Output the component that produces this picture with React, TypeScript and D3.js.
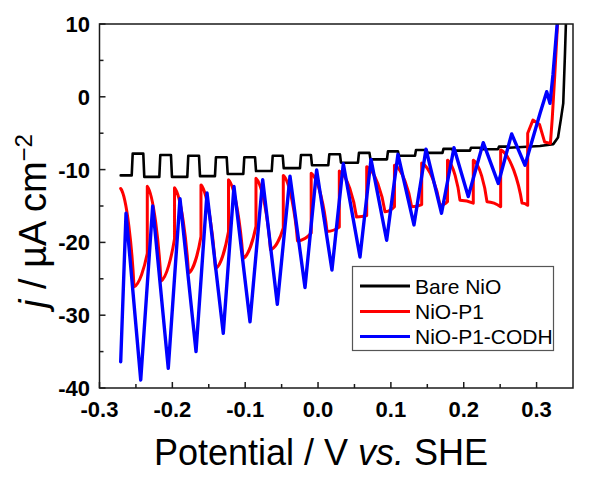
import React from "react";
import * as d3 from "d3";

// ---------- data ----------
const xTickValues = [-0.3, -0.2, -0.1, 0.0, 0.1, 0.2, 0.3];
const xTickLabels = ["-0.3", "-0.2", "-0.1", "0.0", "0.1", "0.2", "0.3"];
const xMinorTicks = [-0.25, -0.15, -0.05, 0.05, 0.15, 0.25];
const yTickValues = [10, 0, -10, -20, -30, -40];
const yTickLabels = ["10", "0", "-10", "-20", "-30", "-40"];
const yMinorTicks = [5, -5, -15, -25, -35];

const seriesNames = ["Bare NiO", "NiO-P1", "NiO-P1-CODH"];

// Bare NiO: chopped-light square pulses
const blackStartV = -0.2709;
const blackStartJ = -10.8;
const blackUpV = [-0.2558, -0.2179, -0.1795, -0.1415, -0.1026, -0.0636, -0.0248, 0.0141, 0.0548, 0.0946, 0.1331, 0.1708, 0.2086, 0.247];
const blackDownV = [-0.2399, -0.2019, -0.1634, -0.1254, -0.0865, -0.0485, -0.0097, 0.0301, 0.0706, 0.1097, 0.1489, 0.1839, 0.2223, 0.2607];
const blackHigh = [-7.8, -8.0, -8.1, -8.3, -8.3, -8.1, -8.0, -7.9, -7.7, -7.5, -7.3, -7.15, -7.0, -6.85];
const blackLow = [-11.0, -11.0, -10.9, -10.6, -10.2, -9.8, -9.4, -9.05, -8.6, -8.1, -7.7, -7.4, -7.2, -7.0];
const blackTailV = [0.3047, 0.3229, 0.3294, 0.3335, 0.3366, 0.339, 0.3404];
const blackTailJ = [-6.75, -6.5, -5.6, -3.0, -0.9, 6.0, 10.5];

// NiO-P1: jump potentials, value after jump, minimum, value before next jump
const redJumpV = [-0.2709, -0.2344, -0.197, -0.1607, -0.1229, -0.0852, -0.0477, -0.0094, 0.0292, 0.0668, 0.1049, 0.1423, 0.1777, 0.2131, 0.2507, 0.2878];
const redTop = [-12.6, -12.3, -12.5, -12.1, -11.4, -11.2, -10.8, -10.5, -10.2, -9.6, -9.4, -9.1, -8.7, -8.7, -7.3, -5.0];
const redMinV = [-0.2526, -0.2156, -0.1778, -0.1408, -0.103, -0.0653, -0.0282, 0.0123, 0.0528, 0.0919, 0.1285, 0.1674, 0.1948, 0.2319, 0.28];
const redMin = [-26.1, -25.3, -24.2, -23.6, -22.2, -21.0, -19.8, -18.5, -16.5, -15.8, -15.1, -14.9, -14.2, -14.4, -14.6];
const redPre = [-21.5, -19.5, -19.2, -18.5, -17.8, -18.0, -18.7, -17.9, -16.3, -15.1, -14.8, -14.4, -14.6, -15.1, -14.9];
const redTailV = [0.295, 0.304, 0.311, 0.319, 0.3215, 0.325, 0.329];
const redTailJ = [-3.2, -3.8, -6.2, -6.4, -3.0, 3.0, 10.5];

// NiO-P1-CODH: alternating minima / maxima
const blueV = [-0.2709, -0.2636, -0.2434, -0.227, -0.2056, -0.1895, -0.1675, -0.1524, -0.1301, -0.1154, -0.0934, -0.076, -0.0559, -0.0385, -0.0179, -0.0019, 0.0191, 0.0347, 0.0576, 0.0727, 0.0942, 0.1097, 0.1317, 0.1482, 0.1695, 0.1866, 0.2062, 0.2268, 0.2474, 0.2658, 0.2841, 0.3047, 0.3139, 0.3184, 0.3225, 0.3287];
const blueJ = [-36.4, -16.0, -38.9, -15.0, -37.3, -14.0, -35.0, -13.2, -32.5, -12.3, -30.9, -11.4, -28.5, -10.9, -26.2, -10.05, -23.8, -9.2, -22.0, -8.6, -19.7, -7.9, -17.6, -7.2, -16.0, -7.0, -13.7, -6.3, -11.9, -5.1, -9.4, -2.3, 0.7, -0.9, 3.0, 10.5];

const colors = ["#000000", "#ff0000", "#0000ff"];
const FONT = "'Liberation Sans', Arial, Helvetica, sans-serif";

export default function App() {
  const W = 600, H = 479;
  const x = d3.scaleLinear().domain([-0.3, 0.35]).range([99.5, 573]);
  const y = d3.scaleLinear().domain([-40, 10]).range([388, 24]);
  const [x0, x1] = x.range();
  const [yb, yt] = y.range();

  // black path
  const pb = d3.path();
  pb.moveTo(x(blackStartV), y(blackStartJ));
  let prev = blackStartJ;
  blackUpV.forEach((u, i) => {
    pb.lineTo(x(u), y(prev));
    pb.lineTo(x(u) + 1, y(blackHigh[i]));
    pb.lineTo(x(blackDownV[i]), y(blackHigh[i]));
    pb.lineTo(x(blackDownV[i]) + 1, y(blackLow[i]));
    prev = blackLow[i];
  });
  blackTailV.forEach((v, i) => pb.lineTo(x(v), y(blackTailJ[i])));

  // red path
  const pr = d3.path();
  redJumpV.forEach((jv, k) => {
    const xa = x(jv), ya = y(redTop[k]);
    if (k === 0) pr.moveTo(xa, ya);
    else {
      pr.lineTo(xa, y(redPre[k - 1]));
      pr.lineTo(xa, ya);
    }
    if (k < redMinV.length) {
      const xm = x(redMinV[k]), ym = y(redMin[k]);
      const dx = xm - xa, dy = ym - ya;
      pr.bezierCurveTo(xa + 0.45 * dx, ya + 0.08 * dy, xm - 0.15 * dx, ym - 0.4 * dy, xm, ym);
      const xn = x(redJumpV[k + 1]), yn = y(redPre[k]);
      const ex = xn - xm, ey = yn - ym;
      pr.bezierCurveTo(xm + 0.4 * ex, ym + 0.05 * ey, xn - 0.2 * ex, yn - 0.4 * ey, xn, yn);
    }
  });
  redTailV.forEach((v, i) => pr.lineTo(x(v), y(redTailJ[i])));

  const blueLine = d3
    .line<number>()
    .x((d, i) => x(blueV[i]))
    .y((d) => y(d));
  const blueD = blueLine(blueJ) || "";

  const paths = [pb.toString(), pr.toString(), blueD];
  const widths = [2.6, 3, 3.4];

  const legendY = [286, 311.5, 336.5];

  return (
    <svg
      width={W}
      height={H}
      viewBox={`0 0 ${W} ${H}`}
      style={{ position: "absolute", left: 0, top: 0, background: "#fff" }}
      fontFamily={FONT}
    >
      <defs>
        <clipPath id="plotClip">
          <rect x={x0} y={yt} width={x1 - x0} height={yb - yt} />
        </clipPath>
      </defs>
      <rect x={0} y={0} width={W} height={H} fill="#fff" />

      <g clipPath="url(#plotClip)" fill="none" strokeLinejoin="round" strokeLinecap="round">
        {paths.map((d, i) => (
          <path key={i} d={d} stroke={colors[i]} strokeWidth={widths[i]} />
        ))}
      </g>

      {/* frame */}
      <rect x={x0} y={yt} width={x1 - x0} height={yb - yt} fill="none" stroke="#1a1a1a" strokeWidth={1.5} />

      {/* x ticks */}
      {xTickValues.map((v, i) => (
        <g key={"xt" + i}>
          <line x1={x(v)} x2={x(v)} y1={yb} y2={yb - 6} stroke="#1a1a1a" strokeWidth={1.5} />
          <text x={x(v)} y={416.5} textAnchor="middle" fontSize={22} fontWeight="bold" fill="#000">
            {xTickLabels[i]}
          </text>
        </g>
      ))}
      {xMinorTicks.map((v, i) => (
        <line key={"xm" + i} x1={x(v)} x2={x(v)} y1={yb} y2={yb - 4} stroke="#1a1a1a" strokeWidth={1.5} />
      ))}

      {/* y ticks */}
      {yTickValues.map((v, i) => (
        <g key={"yt" + i}>
          <line x1={x0} x2={x0 + 6} y1={y(v)} y2={y(v)} stroke="#1a1a1a" strokeWidth={1.5} />
          <text x={90} y={y(v) + 8} textAnchor="end" fontSize={22} fontWeight="bold" fill="#000">
            {yTickLabels[i]}
          </text>
        </g>
      ))}
      {yMinorTicks.map((v, i) => (
        <line key={"ym" + i} x1={x0} x2={x0 + 4} y1={y(v)} y2={y(v)} stroke="#1a1a1a" strokeWidth={1.5} />
      ))}

      {/* axis titles */}
      <text x={321} y={465} textAnchor="middle" fontSize={36} fill="#000">
        Potential / V <tspan fontStyle="italic">vs.</tspan> SHE
      </text>
      <text transform="translate(46,221) rotate(-90)" textAnchor="middle" fontSize={38} fill="#000">
        <tspan fontStyle="italic">j</tspan> / µA cm<tspan dy={-14} fontSize={24}>−2</tspan>
      </text>

      {/* legend */}
      <rect x={352.5} y={266.5} width={201} height={84} fill="#fff" stroke="#555" strokeWidth={1.2} />
      {seriesNames.map((n, i) => (
        <g key={"lg" + i}>
          <line x1={360} x2={410} y1={legendY[i]} y2={legendY[i]} stroke={colors[i]} strokeWidth={3} />
          <text x={415} y={legendY[i] + 7.5} fontSize={21} fill="#000">
            {n}
          </text>
        </g>
      ))}
    </svg>
  );
}
